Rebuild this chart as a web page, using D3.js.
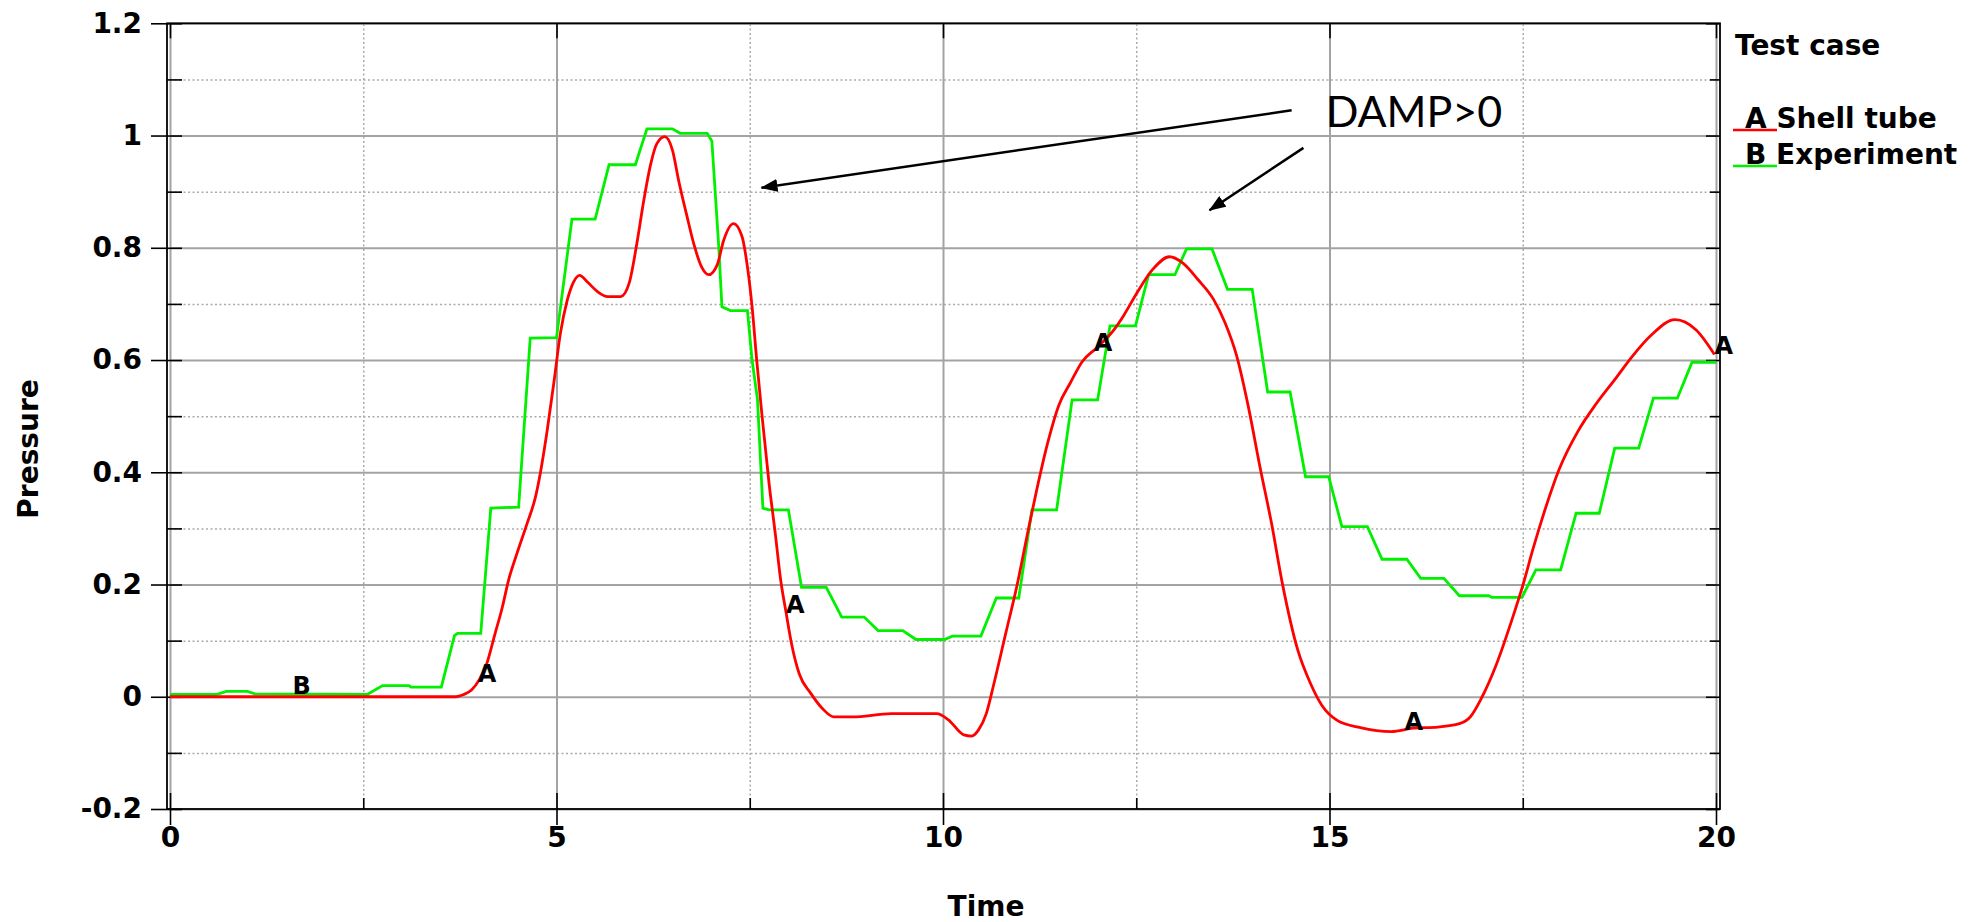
<!DOCTYPE html>
<html>
<head>
<meta charset="utf-8">
<script src="https://cdn.jsdelivr.net/npm/d3@7"></script>
<style>
  body { margin: 0; background: #fff; }
  text { font-family: "DejaVu Sans", sans-serif; font-weight: bold; }
  .grid line { stroke: #a3a3a3; stroke-width: 2; }
  .grid-minor line { stroke: #aaa; stroke-width: 1.5; stroke-dasharray: 2,2.5; }
  .ticks line { stroke: #000; stroke-width: 1.6; }
  .ticks text { font-size: 28px; fill: #000; }
</style>
</head>
<body>
<div id="chart"></div>
<script>
const svgWidth = 1979;
const svgHeight = 922;

// Shell tube (curve A)
const shellTime = [0, 3.7, 3.8, 3.9, 4.0, 4.1, 4.2, 4.3, 4.38, 4.49, 4.62, 4.73, 4.79, 4.88, 4.97, 5.05, 5.14, 5.22, 5.3, 5.4,
  5.53, 5.66, 5.83, 5.94, 6.04, 6.13, 6.22, 6.3, 6.4, 6.5, 6.58, 6.69, 6.78, 6.88, 6.97, 7.08, 7.16, 7.29, 7.4, 7.47,
  7.53, 7.59, 7.66, 7.75, 7.83, 7.9, 7.97, 8.04, 8.14, 8.29, 8.44, 8.59, 8.83, 9.33, 9.72, 9.92, 10.07, 10.27, 10.37, 10.46,
  10.56, 10.66, 10.81, 10.96, 11.11, 11.21, 11.35, 11.5, 11.65, 11.8, 11.99, 12.19, 12.34, 12.51, 12.71, 12.93, 13.1, 13.3, 13.5, 13.65,
  13.8, 13.95, 14.1, 14.25, 14.39, 14.59, 14.75, 14.9, 15.1, 15.4, 15.8, 16.08, 16.4, 16.68, 16.82, 16.96, 17.16, 17.35, 17.5, 17.63,
  17.78, 17.97, 18.21, 18.45, 18.69, 18.92, 19.16, 19.47, 19.74, 19.98];
const shellPressure = [0, 0, 0.004, 0.012, 0.03, 0.06, 0.11, 0.16, 0.208, 0.256, 0.309, 0.357, 0.398, 0.475, 0.564, 0.647, 0.707, 0.739, 0.751, 0.739,
  0.722, 0.713, 0.713, 0.737, 0.808, 0.885, 0.95, 0.986, 0.998, 0.974, 0.92, 0.855, 0.805, 0.765, 0.752, 0.77, 0.812, 0.843, 0.82, 0.766,
  0.695, 0.6, 0.499, 0.38, 0.291, 0.208, 0.15, 0.095, 0.041, 0.006, -0.021, -0.036, -0.036, -0.03, -0.03, -0.03, -0.041, -0.068, -0.07, -0.059,
  -0.03, 0.024, 0.112, 0.2, 0.302, 0.367, 0.45, 0.52, 0.56, 0.597, 0.622, 0.65, 0.68, 0.72, 0.761, 0.784, 0.773, 0.743, 0.708, 0.666,
  0.607, 0.517, 0.41, 0.309, 0.202, 0.083, 0.025, -0.015, -0.042, -0.055, -0.062, -0.056, -0.054, -0.048, -0.036, -0.004, 0.058, 0.133, 0.198, 0.262,
  0.33, 0.405, 0.472, 0.522, 0.565, 0.607, 0.644, 0.672, 0.654, 0.61];

// Experiment (curve B)
const expTime = [0, 0.6, 0.73, 1.0, 1.1, 2.55, 2.75, 3.09, 3.12, 3.51, 3.68, 3.72, 4.02, 4.15, 4.51, 4.66, 5.0, 5.2, 5.5, 5.68,
  6.02, 6.17, 6.5, 6.6, 6.95, 7.01, 7.1, 7.14, 7.25, 7.47, 7.53, 7.6, 7.67, 7.75, 8.0, 8.17, 8.49, 8.69, 8.98, 9.16,
  9.48, 9.65, 10.02, 10.12, 10.49, 10.69, 10.98, 11.15, 11.47, 11.67, 12.0, 12.16, 12.49, 12.66, 13.0, 13.15, 13.48, 13.68, 14.0, 14.2,
  14.49, 14.69, 14.99, 15.16, 15.49, 15.68, 16.0, 16.18, 16.48, 16.68, 17.06, 17.1, 17.49, 17.67, 17.99, 18.19, 18.49, 18.69, 19.0, 19.19,
  19.5, 19.69, 20.0];
const expPressure = [0.004, 0.004, 0.0095, 0.0095, 0.005, 0.004, 0.02, 0.02, 0.017, 0.017, 0.109, 0.113, 0.113, 0.336, 0.338, 0.639, 0.64, 0.851, 0.851, 0.948,
  0.948, 1.012, 1.012, 1.004, 1.004, 0.99, 0.8, 0.695, 0.688, 0.688, 0.6, 0.53, 0.336, 0.333, 0.333, 0.195, 0.195, 0.142, 0.142, 0.118,
  0.118, 0.102, 0.102, 0.108, 0.108, 0.176, 0.176, 0.333, 0.333, 0.529, 0.529, 0.661, 0.661, 0.752, 0.752, 0.798, 0.798, 0.726, 0.726, 0.543,
  0.543, 0.392, 0.392, 0.303, 0.303, 0.245, 0.245, 0.211, 0.211, 0.18, 0.18, 0.177, 0.177, 0.226, 0.226, 0.327, 0.327, 0.443, 0.443, 0.532,
  0.532, 0.596, 0.596];

// where the curve letters sit
const labelTimesA = [3.98, 7.97, 11.95, 15.97, 19.98];
const labelTimesB = [1.585];

const xTicks = [0, 5, 10, 15, 20];
const xMinorTicks = [2.5, 7.5, 12.5, 17.5];
const yTicks = [-0.2, 0, 0.2, 0.4, 0.6, 0.8, 1, 1.2];
const yTickLabels = ['-0.2', '0', '0.2', '0.4', '0.6', '0.8', '1', '1.2'];
const yMinorTicks = [-0.1, 0.1, 0.3, 0.5, 0.7, 0.9, 1.1];

const legendItems = [
  { key: 'A', name: 'Shell tube', color: '#ff0000' },
  { key: 'B', name: 'Experiment', color: '#00f000' }
];

// annotation: text anchor and two arrows (start -> tip), in data units
const noteText = 'DAMP>0';
const notePos = [14.95, 1.0147];
const noteArrows = [
  [[14.51, 1.045], [7.652, 0.907]],
  [[14.663, 0.978], [13.448, 0.867]]
];

const plotLeft = 170, plotRight = 1716, plotTop = 23.3, plotBottom = 809;
const frameLeft = 167, frameRight = 1720;

const x = d3.scaleLinear().domain([0, 20]).range([plotLeft, plotRight]);
const y = d3.scaleLinear().domain([-0.2, 1.2]).range([plotBottom, plotTop]);

const shellData = shellTime.map((t, i) => [t, shellPressure[i]]);
const expData = expTime.map((t, i) => [t, expPressure[i]]);

const svg = d3.select('#chart')
  .append('svg')
  .attr('width', svgWidth)
  .attr('height', svgHeight);

svg.append('defs').append('marker')
  .attr('id', 'arrowhead')
  .attr('markerUnits', 'userSpaceOnUse')
  .attr('markerWidth', 18).attr('markerHeight', 14)
  .attr('refX', 16).attr('refY', 6.5)
  .attr('orient', 'auto')
  .append('path')
  .attr('d', 'M0,0 L17,6.5 L0,13 Z')
  .attr('fill', '#000');

// grid
svg.append('g').attr('class', 'grid-minor')
  .attr('transform', `translate(0,${plotBottom})`)
  .call(d3.axisBottom(x).tickValues(xMinorTicks).tickSize(-(plotBottom - plotTop)).tickFormat(''))
  .call(g => g.select('.domain').remove());
svg.append('g').attr('class', 'grid-minor')
  .attr('transform', `translate(${plotLeft},0)`)
  .call(d3.axisLeft(y).tickValues(yMinorTicks).tickSize(-(plotRight - plotLeft)).tickFormat(''))
  .call(g => g.select('.domain').remove());
svg.append('g').attr('class', 'grid')
  .attr('transform', `translate(0,${plotBottom})`)
  .call(d3.axisBottom(x).tickValues(xTicks).tickSize(-(plotBottom - plotTop)).tickFormat(''))
  .call(g => g.select('.domain').remove());
svg.append('g').attr('class', 'grid')
  .attr('transform', `translate(${plotLeft},0)`)
  .call(d3.axisLeft(y).tickValues(yTicks).tickSize(-(plotRight - plotLeft)).tickFormat(''))
  .call(g => g.select('.domain').remove());

// frame
svg.append('rect')
  .attr('x', frameLeft).attr('y', plotTop)
  .attr('width', frameRight - frameLeft).attr('height', plotBottom - plotTop)
  .attr('fill', 'none').attr('stroke', '#000').attr('stroke-width', 1.8);

// ticks + labels
const addAxis = (axis, tx, ty) => svg.append('g').attr('class', 'ticks')
  .attr('transform', `translate(${tx},${ty})`)
  .call(axis)
  .call(g => g.select('.domain').remove());

addAxis(d3.axisLeft(y).tickValues(yTicks).tickSize(16).tickPadding(9)
  .tickFormat((d, i) => yTickLabels[i]), frameLeft, 0);
addAxis(d3.axisRight(y).tickValues(yTicks).tickSize(15).tickFormat(''), frameLeft, 0);
addAxis(d3.axisRight(y).tickValues(yMinorTicks).tickSize(15).tickFormat(''), frameLeft, 0);
addAxis(d3.axisLeft(y).tickValues(yTicks).tickSize(14).tickFormat(''), frameRight, 0);
addAxis(d3.axisLeft(y).tickValues(yMinorTicks).tickSize(10).tickFormat(''), frameRight, 0);

addAxis(d3.axisBottom(x).tickValues(xTicks).tickSize(16).tickPadding(2), 0, plotBottom);
addAxis(d3.axisTop(x).tickValues(xTicks).tickSize(16).tickFormat(''), 0, plotBottom);
addAxis(d3.axisTop(x).tickValues(xMinorTicks).tickSize(11).tickFormat(''), 0, plotBottom);
addAxis(d3.axisBottom(x).tickValues(xTicks).tickSize(15).tickFormat(''), 0, plotTop);

// axis titles
svg.append('text')
  .attr('x', 986).attr('y', 916)
  .attr('text-anchor', 'middle')
  .style('font-size', '28px')
  .text('Time');

svg.append('text')
  .attr('transform', 'translate(38,449) rotate(-90)')
  .attr('text-anchor', 'middle')
  .style('font-size', '28px')
  .text('Pressure');

// curves
const line = d3.line().x(d => x(d[0])).y(d => y(d[1]));

svg.append('path')
  .datum(expData)
  .attr('fill', 'none')
  .attr('stroke', legendItems[1].color)
  .attr('stroke-width', 2.8)
  .attr('d', line);

svg.append('path')
  .datum(shellData)
  .attr('fill', 'none')
  .attr('stroke', legendItems[0].color)
  .attr('stroke-width', 2.8)
  .attr('d', line.curve(d3.curveMonotoneX));

const valueAt = (data, t) => {
  const i = Math.min(Math.max(d3.bisector(d => d[0]).left(data, t), 1), data.length - 1);
  const a = data[i - 1], b = data[i];
  return a[1] + (b[1] - a[1]) * (t - a[0]) / (b[0] - a[0]);
};

svg.selectAll('.label-a')
  .data(labelTimesA)
  .enter()
  .append('text')
  .attr('class', 'label-a')
  .attr('x', d => x(d))
  .attr('y', d => y(valueAt(shellData, d)))
  .style('font-size', '24px')
  .text('A');

svg.selectAll('.label-b')
  .data(labelTimesB)
  .enter()
  .append('text')
  .attr('class', 'label-b')
  .attr('x', d => x(d))
  .attr('y', d => y(valueAt(expData, d)))
  .style('font-size', '24px')
  .text('B');

// legend
svg.append('text')
  .attr('x', 1735).attr('y', 55)
  .style('font-size', '28px')
  .text('Test case');

const legend = svg.selectAll('.legend')
  .data(legendItems)
  .enter()
  .append('g')
  .attr('class', 'legend')
  .attr('transform', (d, i) => `translate(0,${128 + i * 36})`);

legend.append('line')
  .attr('x1', 1733).attr('x2', 1777)
  .attr('y1', 2).attr('y2', 2)
  .attr('stroke', d => d.color)
  .attr('stroke-width', 2.5);

legend.append('text')
  .attr('x', 1745).attr('y', 0)
  .style('font-size', '28px')
  .text(d => `${d.key} ${d.name}`);

// annotation
svg.append('text')
  .attr('x', x(notePos[0])).attr('y', y(notePos[1]))
  .style('font-family', 'Lato, sans-serif')
  .style('font-weight', 'normal')
  .style('font-size', '43px')
  .text(noteText);

svg.selectAll('.note-arrow')
  .data(noteArrows)
  .enter()
  .append('line')
  .attr('class', 'note-arrow')
  .attr('x1', d => x(d[0][0])).attr('y1', d => y(d[0][1]))
  .attr('x2', d => x(d[1][0])).attr('y2', d => y(d[1][1]))
  .attr('stroke', '#000')
  .attr('stroke-width', 2.5)
  .attr('marker-end', 'url(#arrowhead)');
</script>
</body>
</html>
